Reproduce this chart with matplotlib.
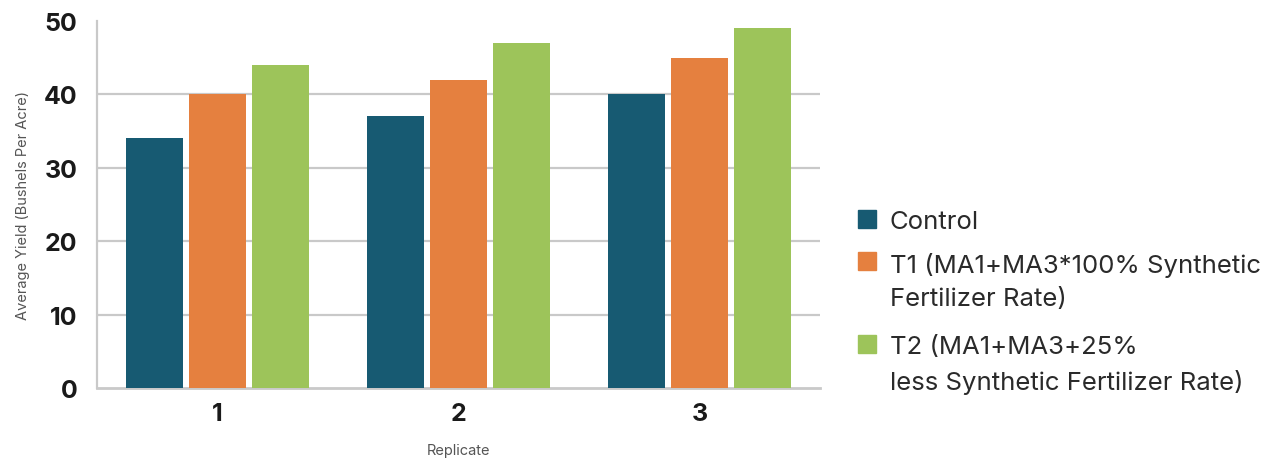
import matplotlib
matplotlib.use("Agg")
import matplotlib.pyplot as plt
from matplotlib.patches import Rectangle
import numpy as np

replicates = ["1", "2", "3"]
series_names = [
    "Control",
    "T1 (MA1+MA3*100% Synthetic\nFertilizer Rate)",
    "T2 (MA1+MA3+25%\nless Synthetic Fertilizer Rate)",
]
control = [34, 37, 40]
t1 = [40, 42, 45]
t2 = [44, 47, 49]
yticks = [0, 10, 20, 30, 40, 50]

colors = ["#175a72", "#e5803f", "#9dc45a"]

plt.rcParams["font.family"] = ["Inter", "DejaVu Sans"]

W, H = 1278, 464
fig = plt.figure(figsize=(W / 100, H / 100), dpi=100)
ax = fig.add_axes([97 / W, 1 - 389 / H, (820 - 97) / W, (389 - 22) / H])

x = np.arange(1, len(replicates) + 1)
width = 0.2375
step = 0.2625
for i, (vals, c, name) in enumerate(zip([control, t1, t2], colors, series_names)):
    ax.bar(x + (i - 1) * step, vals, width=width, color=c, label=name, zorder=3)

ax.set_xlim(0.5, 3.5)
ax.set_ylim(0, 50)
ax.set_yticks(yticks)
ax.set_xticks(x)
ax.set_xticklabels(replicates)

for v in yticks[1:-1]:
    ax.axhline(v, color="#c9c9c9", lw=1.6, zorder=1)

for s in ["top", "right"]:
    ax.spines[s].set_visible(False)
ax.spines["left"].set_color("#c9c9c9")
ax.spines["left"].set_linewidth(1.6)
ax.spines["bottom"].set_color("#c9c9c9")
ax.spines["bottom"].set_linewidth(2.0)

ax.tick_params(axis="both", length=0, labelsize=18, labelcolor="#1a1a1a")
ax.tick_params(axis="y", pad=14)
ax.tick_params(axis="x", pad=10)
for lbl in ax.get_yticklabels() + ax.get_xticklabels():
    lbl.set_fontweight("bold")

ax.set_ylabel("Average Yield (Bushels Per Acre)", fontsize=10.5, color="#555555", labelpad=10)
ax.set_xlabel("Replicate", fontsize=10.5, color="#555555", labelpad=13)

# legend (manual, handles aligned to first line of each label)
leg_fs = 18.5
renderer = fig.canvas.get_renderer()
probe = fig.text(0, 0, "Control", fontsize=leg_fs, va="top")
h1 = probe.get_window_extent(renderer).height
probe.remove()

first_line_centers = [220, 262, 345]
box = 18
for c, name, yc in zip(colors, series_names, first_line_centers):
    fig.patches.append(Rectangle((858 / W, 1 - (yc + box / 2) / H), box / W, box / H,
                                 transform=fig.transFigure, color=c, figure=fig))
    fig.text(890 / W, 1 - (yc - h1 / 2 + 2.5) / H, name, fontsize=leg_fs, color="#2a2a2a",
             ha="left", va="top", linespacing=1.55)

fig.savefig("out.png", dpi=100, facecolor="white")
